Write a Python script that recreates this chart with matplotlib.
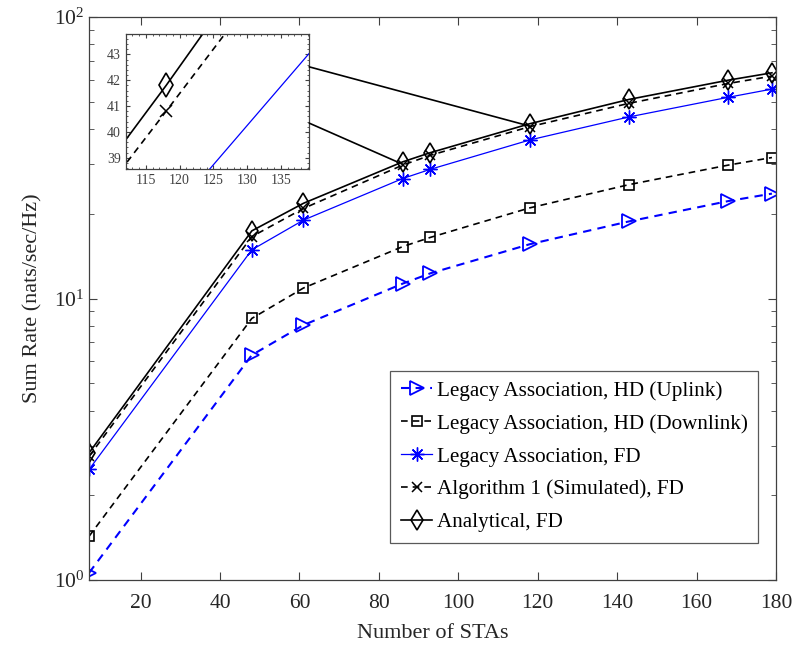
import matplotlib
matplotlib.use("Agg")
import matplotlib.pyplot as plt
from matplotlib.ticker import LogLocator, FixedLocator, AutoMinorLocator, NullFormatter
from matplotlib.patches import ConnectionPatch

plt.rcParams['font.family'] = ['Liberation Serif', 'DejaVu Serif']
plt.rcParams['mathtext.fontset'] = 'custom'
plt.rcParams['mathtext.rm'] = 'Liberation Serif'
plt.rcParams['mathtext.it'] = 'Liberation Serif:italic'

# ---- data ----
num_stas = [7, 48, 61, 86, 93, 118, 143, 168, 179]
hd_uplink = [1.06, 6.3, 8.05, 11.3, 12.3, 15.6, 18.8, 22.2, 23.6]
hd_downlink = [1.43, 8.5, 10.9, 15.3, 16.5, 21.0, 25.4, 29.8, 31.7]
legacy_fd = [2.47, 14.9, 19.0, 26.7, 28.8, 36.6, 44.2, 51.9, 55.5]
algo1_fd = [2.75, 16.6, 20.9, 29.8, 32.3, 40.8, 49.4, 58.1, 61.7]
analytical_fd = [2.83, 17.4, 21.8, 30.6, 33.0, 41.8, 51.0, 59.7, 63.4]

labels = ["Legacy Association, HD (Uplink)",
          "Legacy Association, HD (Downlink)",
          "Legacy Association, FD",
          "Algorithm 1 (Simulated), FD",
          "Analytical, FD"]

x_ticks = [20, 40, 60, 80, 100, 120, 140, 160, 180]
inset_xticks = [115, 120, 125, 130, 135]
inset_yticks = [39, 40, 41, 42, 43]

fig = plt.figure(figsize=(7.95, 6.58), dpi=100)
ax = fig.add_axes([0.112, 0.1185, 0.864, 0.8555])

axis_col = '0.25'
asterisk = (8, 2, 0)

def draw_series(a, ms_scale=1.0):
    a.plot(num_stas, hd_uplink, color='blue', ls=(0, (4, 3)), lw=1.5,
           marker='>', ms=10 * ms_scale, mfc='none', mew=1.3,
           label=labels[0])
    a.plot(num_stas, hd_downlink, color='black', ls=(0, (4, 3)), lw=1.2,
           marker='s', ms=7 * ms_scale, mfc='none', mew=1.2,
           label=labels[1])
    a.plot(num_stas, legacy_fd, color='blue', ls='-', lw=0.9,
           marker=asterisk, ms=10 * ms_scale, mec='blue', mew=1.0,
           label=labels[2])
    a.plot(num_stas, algo1_fd, color='black', ls=(0, (4, 3)), lw=1.2,
           marker='x', ms=7 * ms_scale, mew=1.1,
           label=labels[3])
    a.plot(num_stas, analytical_fd, color='black', ls='-', lw=1.2,
           marker='d', ms=10.5 * ms_scale, mfc='none', mew=1.2,
           label=labels[4])

draw_series(ax)
ax.set_yscale('log')
ax.set_xlim(7, 180)
ax.set_ylim(1, 100)
ax.xaxis.set_major_locator(FixedLocator(x_ticks))
ax.yaxis.set_major_locator(LogLocator(base=10, numticks=5))
ax.yaxis.set_minor_locator(LogLocator(base=10, subs=range(2, 10), numticks=20))
ax.yaxis.set_minor_formatter(NullFormatter())
ax.tick_params(which='both', direction='in', top=True, right=True,
               colors=axis_col, labelcolor='0.15', labelsize=15.5)
ax.tick_params(which='major', length=6)
ax.tick_params(which='minor', length=3.5)
ax.tick_params(axis='x', pad=10)
for s in ax.spines.values():
    s.set_color(axis_col)
    s.set_linewidth(0.9)
ax.set_xlabel("Number of STAs", fontsize=16, color='0.15', labelpad=8)
ax.set_ylabel("Sum Rate (nats/sec/Hz)", fontsize=16, color='0.15', labelpad=8)

leg = ax.legend(loc='lower right', bbox_to_anchor=(0.974, 0.066), fontsize=15.2,
                fancybox=False, framealpha=1, edgecolor='0.35', handlelength=1.5,
                handletextpad=0.2, borderpad=0.5, labelspacing=0.62,
                borderaxespad=0)
leg.get_frame().set_linewidth(0.9)

# ---- inset ----
axin = fig.add_axes([0.158, 0.743, 0.231, 0.206])
draw_series(axin, ms_scale=1.15)
axin.set_xlim(112, 139.2)
axin.set_ylim(38.56, 43.81)
axin.xaxis.set_major_locator(FixedLocator(inset_xticks))
axin.yaxis.set_major_locator(FixedLocator(inset_yticks))
axin.xaxis.set_minor_locator(AutoMinorLocator(5))
axin.yaxis.set_minor_locator(AutoMinorLocator(5))
axin.tick_params(which='both', direction='in', top=True, right=True,
                 colors=axis_col, labelcolor='0.25', labelsize=10)
axin.tick_params(which='major', length=3)
axin.tick_params(which='minor', length=1.5)
for s in axin.spines.values():
    s.set_color(axis_col)
    s.set_linewidth(0.9)

# connector lines from inset to main curves
for (yin, xm, ym) in [(42.52, 118, 41.0), (40.34, 86, 30.0)]:
    con = ConnectionPatch(xyA=(1.0, (yin - 38.56) / (43.81 - 38.56)), coordsA=axin.transAxes,
                          xyB=(xm, ym), coordsB=ax.transData,
                          color='black', lw=1.2)
    fig.add_artist(con)

fig.savefig("out.png", dpi=100)
